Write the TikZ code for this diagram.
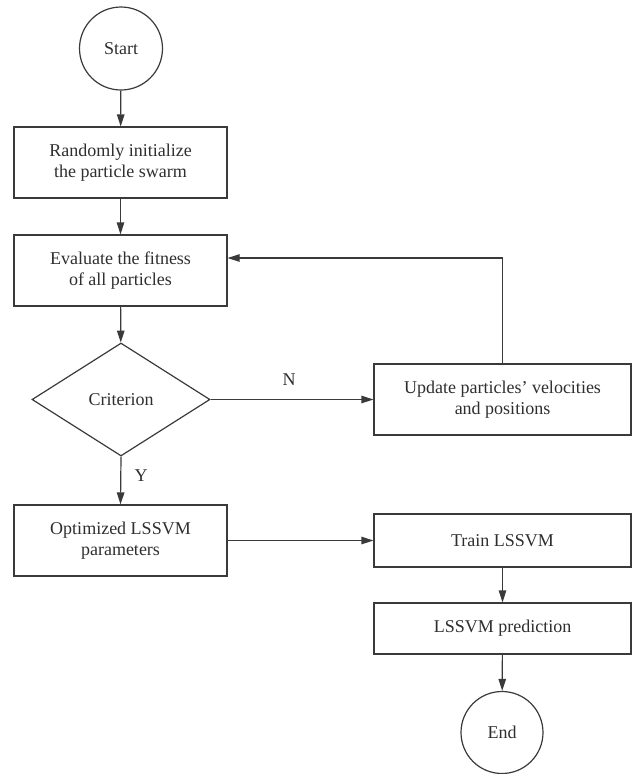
\documentclass[tikz,border=0pt]{standalone}
\usepackage{fontspec}
\setmainfont{Liberation Serif}
\usetikzlibrary{shapes.geometric,arrows.meta}
\definecolor{ln}{HTML}{3A3A3A}
\definecolor{tx}{HTML}{2E2E2E}
\begin{document}
\begin{tikzpicture}[x=1pt,y=-1pt,
  base/.style={draw=ln, line width=1.2pt, align=center, text=tx, inner sep=0pt,
    font=\fontsize{18}{21.5}\selectfont},
  box/.style={base, rectangle, minimum width=213pt, minimum height=71pt},
  rbox/.style={base, rectangle, minimum width=257pt, minimum height=71pt},
  term/.style={base, circle, minimum size=83pt},
  decide/.style={base, diamond, minimum width=178pt, minimum height=113pt},
  arr/.style={draw=ln, line width=1.2pt, -{Triangle[length=12pt,width=7.5pt]}},
  lab/.style={text=tx, font=\fontsize{18}{21.5}\selectfont}]
\useasboundingbox (0,0) rectangle (635,774);
\node[term] (start) at (121,48.5) {Start};
\node[box] (b1) at (120.5,162.5) {Randomly initialize\\the particle swarm};
\node[box] (b2) at (120.5,270.5) {Evaluate the fitness\\of all particles};
\node[decide] (dia) at (121,399.5) {Criterion};
\node[rbox] (upd) at (502.5,399.5) {Update particles’ velocities\\and positions};
\node[box] (opt) at (120.5,540.5) {Optimized LSSVM\\parameters};
\node[rbox, minimum height=53pt] (train) at (502.5,540.5) {Train LSSVM};
\node[rbox, minimum height=51pt] (pred) at (502.5,628.5) {LSSVM prediction};
\node[term, minimum size=82pt] (end) at (502,732.5) {End};
\coordinate (fb) at (502.5,258);
\draw[arr] (start) -- (b1);
\draw[arr] (b1) -- (b2);
\draw[arr] (b2) -- (dia);
\draw[arr] (dia.east) -- (upd.west);
\node[lab] (nl) at (289,380) {N};
\draw[arr] (dia.south) -- (opt.north);
\node[lab] (yl) at (141,476) {Y};
\draw[arr] (upd.north) -- (fb) -- (b2.east |- fb);
\draw[arr] (opt.east |- train) -- (train.west);
\draw[arr] (train) -- (pred);
\draw[arr] (pred) -- (end);
\end{tikzpicture}
\end{document}
